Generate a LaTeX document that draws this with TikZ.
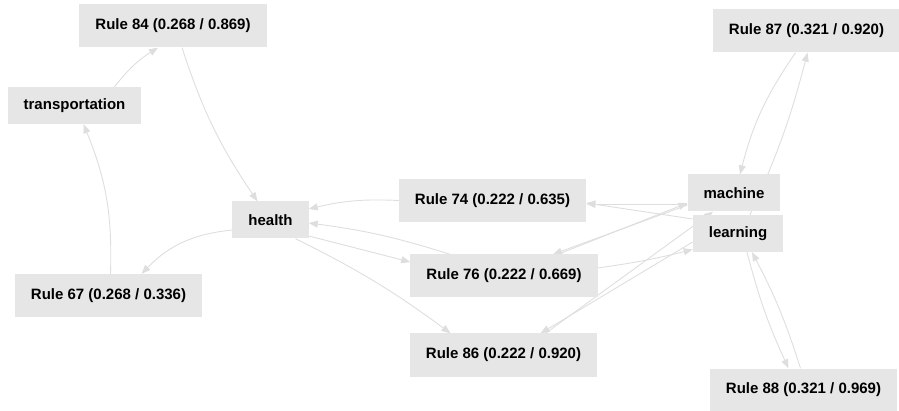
\documentclass[tikz,border=0pt]{standalone}
\usepackage{fontspec}
\setmainfont{Liberation Sans}
\usepackage{xcolor}
\usetikzlibrary{arrows.meta}
\usetikzlibrary{backgrounds}
\definecolor{boxgray}{RGB}{230,230,230}
\definecolor{edgegray}{RGB}{222,222,222}

\tikzset{
rulebox/.style={fill=boxgray, inner xsep=16pt, minimum height=43pt, font=\fontsize{15}{18}\selectfont\bfseries},
itembox/.style={rulebox, minimum height=37pt},
link/.style={draw=edgegray, line width=0.9pt, -{Triangle[length=9pt,width=7pt]}}
}

\begin{document}
\begin{tikzpicture}[x=1pt,y=1pt]
\useasboundingbox (0,0) rectangle (899,-411);

\node[rulebox] (r84) at (173,-26) {Rule 84 (0.268 / 0.869)};
\node[itembox] (trans) at (74.5,-105.5) {transportation};
\node[itembox] (health) at (270.5,-220) {health};
\node[rulebox] (r67) at (108.5,-295.5) {Rule 67 (0.268 / 0.336)};
\node[rulebox] (r74) at (492.5,-200.5) {Rule 74 (0.222 / 0.635)};
\node[rulebox] (r76) at (504,-276) {Rule 76 (0.222 / 0.669)};
\node[rulebox] (r86) at (503.5,-355) {Rule 86 (0.222 / 0.920)};
\node[itembox] (machine) at (734,-193) {machine};
\node[itembox] (learning) at (738,-233.5) {learning};
\node[rulebox] (r87) at (806.5,-31) {Rule 87 (0.321 / 0.920)};
\node[rulebox] (r88) at (803.5,-390) {Rule 88 (0.321 / 0.969)};

\begin{scope}[on background layer]
\draw[link] ([xshift=40pt]trans.north) to[bend left=10] ([xshift=-15pt]r84.south);
\draw[link] ([xshift=9pt]r84.south) to[bend right=8] ([xshift=-13pt]health.north);
\draw[link] ([yshift=-10pt]health.west) to[bend right=20] ([xshift=33pt]r67.north);
\draw[link] ([xshift=2pt]r67.north) to[bend right=12] ([xshift=9pt]trans.south);

\draw[link] (r74.west) to[bend right=8] ([yshift=11pt]health.east);
\draw[link] ([xshift=-54pt]r76.north) to[bend right=5] ([yshift=-3pt]health.east);
\draw[link] ([yshift=-16pt]health.east) -- ([yshift=14pt]r76.west);
\draw[link] ([xshift=25pt]health.south) to[bend left=5] ([xshift=-53pt]r86.north);

\draw[link] ([yshift=-11pt]machine.west) -- ([yshift=-3.5pt]r74.east);
\draw[link] ([yshift=14.5pt]learning.west) -- ([yshift=-2.5pt]r74.east);
\draw[link] ([yshift=-12pt]machine.west) -- ([xshift=49pt]r76.north);
\draw[link] ([xshift=54pt]r76.north) -- ([yshift=-10pt]machine.west);
\draw[link] ([yshift=8pt]r76.east) to[bend right=3] ([yshift=-16pt]learning.west);
\draw[link] ([yshift=-8.5pt]learning.west) -- ([xshift=37pt]r86.north);
\draw[link] ([xshift=42pt]r86.north) -- ([xshift=-21pt]machine.south);

\draw[link] ([xshift=-11pt]r87.south) to[bend right=10] ([xshift=6pt]machine.north);
\draw[link] ([xshift=12pt]learning.north) to[bend right=5] ([xshift=1pt]r87.south);
\draw[link] ([xshift=9pt]learning.south) to[bend right=5] ([xshift=-15pt]r88.north);
\draw[link] ([xshift=-3pt]r88.north) to[bend right=5] ([xshift=14pt]learning.south);
\end{scope}
\end{tikzpicture}
\end{document}
